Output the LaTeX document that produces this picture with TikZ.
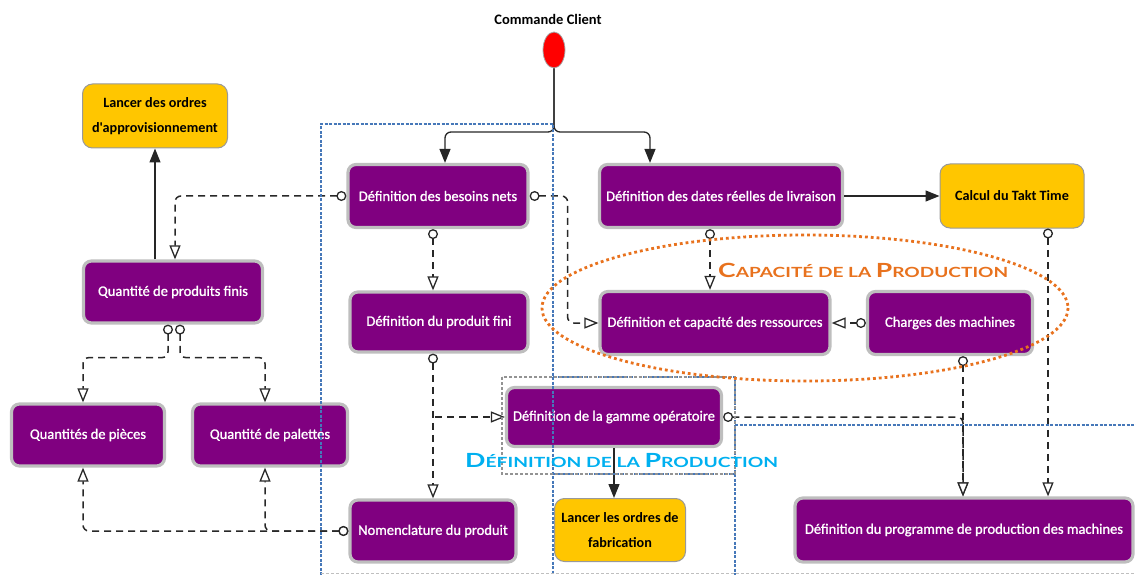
\documentclass[tikz,border=0pt]{standalone}
\usepackage{fontspec}
\usepackage{graphicx}
\usetikzlibrary{arrows.meta,shapes.geometric}
\newfontfamily\cf{Carlito}
\newfontfamily\cfb{Carlito}[FakeBold=1.2]
\newfontfamily\lf{Lato}
\definecolor{pur}{RGB}{128,0,128}
\definecolor{yel}{RGB}{255,198,0}
\definecolor{bgray}{RGB}{190,190,190}
\definecolor{dgray}{RGB}{40,40,40}
\definecolor{orng}{RGB}{232,114,30}
\definecolor{lblue}{RGB}{0,176,240}
\definecolor{lane}{RGB}{70,120,185}
\newcommand{\fsc}[2]{{\fontsize{19.5}{20}\selectfont #1}{\fontsize{14}{14}\selectfont #2}}
\begin{document}
\begin{tikzpicture}[x=1pt,y=-1pt,
 pbox/.style={rectangle, rounded corners=8pt, fill=pur, draw=bgray, line width=3.2pt, text=white, font=\cfb\fontsize{14.5}{17}\selectfont, inner sep=1pt, align=center},
 ybox/.style={rectangle, rounded corners=10pt, fill=yel, draw=gray!80, line width=1pt, text=black, font=\cf\bfseries\fontsize{14.2}{25}\selectfont, inner sep=1pt, align=center},
 sarr/.style={draw=black!85, line width=1.3pt, -{Triangle[length=14pt,width=11pt]}, rounded corners=6pt},
 dsh/.style={draw=dgray, line width=1.5pt, dash pattern=on 7pt off 5pt, rounded corners=6pt, {Circle[open,fill=white,length=10pt,width=10pt,line width=1.3pt]}-{Triangle[open,fill=white,length=14pt,width=11pt,line width=1.3pt]}},
 dshn/.style={draw=dgray, line width=1.5pt, dash pattern=on 7pt off 5pt, rounded corners=6pt, -{Triangle[open,fill=white,length=14pt,width=11pt,line width=1.3pt]}},
 lanes/.style={draw=lane, line width=1.3pt, dash pattern=on 3pt off 1.5pt},
]
\useasboundingbox (0,0) rectangle (1136,575);

% nodes
\node[font=\cf\bfseries\fontsize{14.5}{17}\selectfont, inner sep=0] (cclab) at (548,19) {Commande Client};
\node[ellipse, fill=red, draw=gray!70, line width=0.8pt, minimum width=22pt, minimum height=36pt, inner sep=0] (cc) at (554,50) {};
\coordinate (jn) at (554,132);

\node[ybox, minimum width=145pt, minimum height=64pt] (appro) at (155,116) {Lancer des ordres\\d'approvisionnement};
\node[pbox, minimum width=180pt, minimum height=63pt] (besoins) at (438,196) {Définition des besoins nets};
\node[pbox, minimum width=243pt, minimum height=63pt] (dates) at (721,196) {Définition des dates réelles de livraison};
\node[ybox, minimum width=144pt, minimum height=64pt] (takt) at (1012,196) {Calcul du Takt Time};
\node[pbox, minimum width=179pt, minimum height=62pt] (qpf) at (173,292) {Quantité de produits finis};
\node[pbox, minimum width=178pt, minimum height=60pt] (pfini) at (439,322) {Définition du produit fini};
\node[pbox, minimum width=230pt, minimum height=63pt] (ress) at (715,323) {Définition et capacité des ressources};
\node[pbox, minimum width=165pt, minimum height=63pt] (charges) at (950,323) {Charges des machines};
\node[pbox, minimum width=153pt, minimum height=62pt] (pieces) at (88,435) {Quantités de pièces};
\node[pbox, minimum width=155pt, minimum height=62pt] (palettes) at (270,435) {Quantité de palettes};
\node[pbox, minimum width=215pt, minimum height=59pt] (gamme) at (614,417) {Définition de la gamme opératoire};
\node[ybox, minimum width=131pt, minimum height=63pt] (fab) at (620,530) {Lancer les ordres de\\fabrication};
\node[pbox, minimum width=166pt, minimum height=62pt] (nomen) at (433,531) {Nomenclature du produit};
\node[pbox, minimum width=338pt, minimum height=64pt] (prog) at (964,530) {Définition du programme de production des machines};

% solid connectors
\draw[sarr] (cc.south) -- (jn) -| ([xshift=7pt]besoins.north);
\draw[sarr] (cc.south) -- (jn) -| ([xshift=-71pt]dates.north);
\draw[sarr] (dates.east) -- (takt.west);
\draw[sarr] (appro.south |- qpf.north) -- (appro.south);
\draw[sarr] (gamme.south) -- (gamme.south |- fab.north);

% dashed connectors
\draw[dsh] (besoins.west) -| ([xshift=2pt]qpf.north);
\draw[dsh] (besoins.east) -- ++(38,0) |- (ress.west);
\draw[dsh] ([xshift=-5pt]besoins.south) -- ([xshift=-5pt]besoins.south |- pfini.north);
\draw[dsh] ([xshift=-11pt]dates.south) -- ([xshift=-11pt]dates.south |- ress.north);
\draw[dsh] (charges.west) -- (ress.east);
\draw[dsh] ([xshift=-5pt]qpf.south) -- ++(0,33) -| ([xshift=-5pt]pieces.north);
\draw[dsh] ([xshift=7pt]qpf.south) -- ++(0,33) -| ([xshift=-5pt]palettes.north);
\draw[dsh] ([xshift=-6pt]pfini.south) -- ([xshift=-6pt]pfini.south |- nomen.north);
\draw[dshn] ([xshift=-4pt]pfini.south |- gamme.west) -- (gamme.west);
\draw[dsh] (nomen.west) -| ([xshift=-5pt]pieces.south);
\draw[dsh] (nomen.west) -| ([xshift=-5pt]palettes.south);
\draw[dsh] (gamme.east) -| ([xshift=-1pt]prog.north);
\draw[dsh] ([xshift=13pt]charges.south) -- ([xshift=13pt]charges.south |- prog.north);
\draw[dsh] ([xshift=36pt]takt.south) -- ([xshift=36pt]takt.south |- prog.north);

% lanes
\draw[lanes] (321,575) -- (321,124) -- (553,124) -- (553,575);
\draw[lanes] (553,377) -- (735,377) -- (735,575);
\draw[lanes] (735,425) -- (1136,425);
\draw[lanes] (553,474) -- (735,474);
\draw[draw=gray!50, line width=0.8pt, dash pattern=on 3pt off 2pt] (321,573) -- (1136,573);
\draw[draw=gray!85, line width=2pt, dash pattern=on 3pt off 2pt] (502,377) rectangle (735,474);

% capacity ellipse
\draw[draw=orng, line width=2.8pt, dash pattern=on 2.8pt off 3pt] (805,308) ellipse [x radius=263, y radius=73];

% labels
\node[anchor=base west, text=orng, inner sep=0] (caplab) at (718,277) {\resizebox{290pt}{\height}{\lf\bfseries\fsc{C}{APACITÉ DE LA }\fsc{P}{RODUCTION}}};
\node[anchor=base west, text=lblue, inner sep=0] (deflab) at (465,467) {\resizebox{313pt}{\height}{\lf\bfseries\fsc{D}{ÉFINITION DE LA }\fsc{P}{RODUCTION}}};
\end{tikzpicture}
\end{document}
